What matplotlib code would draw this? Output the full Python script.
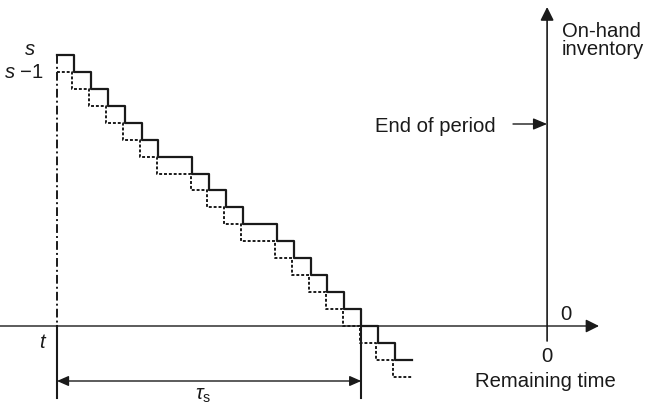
import numpy as np
import matplotlib
matplotlib.use("Agg")
import matplotlib.pyplot as plt

plt.rcParams['font.family'] = ['Liberation Sans', 'DejaVu Sans']
plt.rcParams['mathtext.fontset'] = 'custom'
plt.rcParams['mathtext.rm'] = 'Liberation Sans'
plt.rcParams['mathtext.it'] = 'Liberation Sans:italic'

# data (time in units after t, inventory in units)
s = 16                                   # on-hand inventory at time t
drop_times = [1, 2, 3, 4, 5, 6, 8, 9, 10, 11, 13, 14, 15, 16, 17, 18, 19, 20]
t_last = 21                              # end of drawn staircase
tau_s = 18                               # time when inventory hits zero
t_period = 29                            # end of period (remaining time = 0)

# pixel layout of the reference
W, H = 646, 405
PX_T0, PX_U = 57, 16.9
PY_I0, PY_U = 326, 16.94

def tx(px):
    return (px - PX_T0) / PX_U

def iy(py):
    return (PY_I0 - py) / PY_U

ink = "#1a1a1a"
fs = 14.6

fig = plt.figure(figsize=(W/100, H/100), dpi=100)
ax = fig.add_axes([0, 0, 1, 1])
ax.set_xlim(tx(0), tx(W))
ax.set_ylim(iy(H), iy(0))
ax.axis("off")

# staircases
t_steps = np.array([0] + drop_times + [t_last], dtype=float)
lev = s - np.arange(len(drop_times) + 1)
lev = np.append(lev, lev[-1])
ax.step(t_steps, lev, where="post", color=ink, lw=1.6, zorder=3)

t_dot = t_steps.copy()
t_dot[1:-1] -= 0.1
ax.step(t_dot, lev - 1, where="post", color=ink, lw=1.4,
        linestyle=(0, (1.5, 1.0)), zorder=2)

# dash-dot line at t, and solid markers for tau_s
ax.plot([0, 0], [s, 0], color=ink, lw=1.4, linestyle=(0, (4.5, 1.6, 1, 1.6)))
ax.plot([0, 0], [0, iy(398)], color=ink, lw=1.5)
ax.plot([tau_s, tau_s], [0, iy(398)], color=ink, lw=1.5)
ax.annotate("", xy=(0, iy(381)), xytext=(tau_s, iy(381)),
            arrowprops=dict(arrowstyle="<|-|>,head_length=0.5,head_width=0.22",
                            color=ink, lw=1.0, mutation_scale=14,
                            shrinkA=0, shrinkB=0))
ax.text(tx(203), iy(386), r"$\tau_\mathrm{s}$", fontsize=fs, color=ink,
        ha="center", va="top")

# axes
ax.annotate("", xy=(tx(599), 0), xytext=(tx(0), 0),
            arrowprops=dict(arrowstyle="-|>,head_length=0.5,head_width=0.25",
                            color=ink, lw=1.0, mutation_scale=16,
                            shrinkA=0, shrinkB=0))
ax.annotate("", xy=(t_period, iy(7)), xytext=(t_period, iy(341)),
            arrowprops=dict(arrowstyle="-|>,head_length=0.5,head_width=0.25",
                            color=ink, lw=1.2, mutation_scale=16,
                            shrinkA=0, shrinkB=0))
ax.annotate("", xy=(t_period, iy(124)), xytext=(tx(513), iy(124)),
            arrowprops=dict(arrowstyle="-|>,head_length=0.6,head_width=0.25",
                            color=ink, lw=1.0, mutation_scale=14,
                            shrinkA=0, shrinkB=0))

# labels
ax.text(tx(375), iy(132), "End of period", fontsize=fs, color=ink, ha="left", va="baseline")
ax.text(tx(562), iy(37), "On-hand", fontsize=fs, color=ink, ha="left", va="baseline")
ax.text(tx(562), iy(55), "inventory", fontsize=fs, color=ink, ha="left", va="baseline")
ax.text(tx(545), iy(387), "Remaining time", fontsize=fs, color=ink, ha="center", va="baseline")
ax.text(t_period, iy(362), "0", fontsize=fs, color=ink, ha="center", va="baseline")
ax.text(tx(566), iy(320), "0", fontsize=fs, color=ink, ha="center", va="baseline")
ax.text(tx(43), iy(348), r"$t$", fontsize=fs, color=ink, ha="center", va="baseline")
ax.text(tx(30), iy(55), r"$s$", fontsize=fs, color=ink, ha="center", va="baseline")
ax.text(tx(44), iy(78), r"$s$" + " \u22121", fontsize=fs, color=ink, ha="right", va="baseline")

fig.savefig("out.png", dpi=100)
